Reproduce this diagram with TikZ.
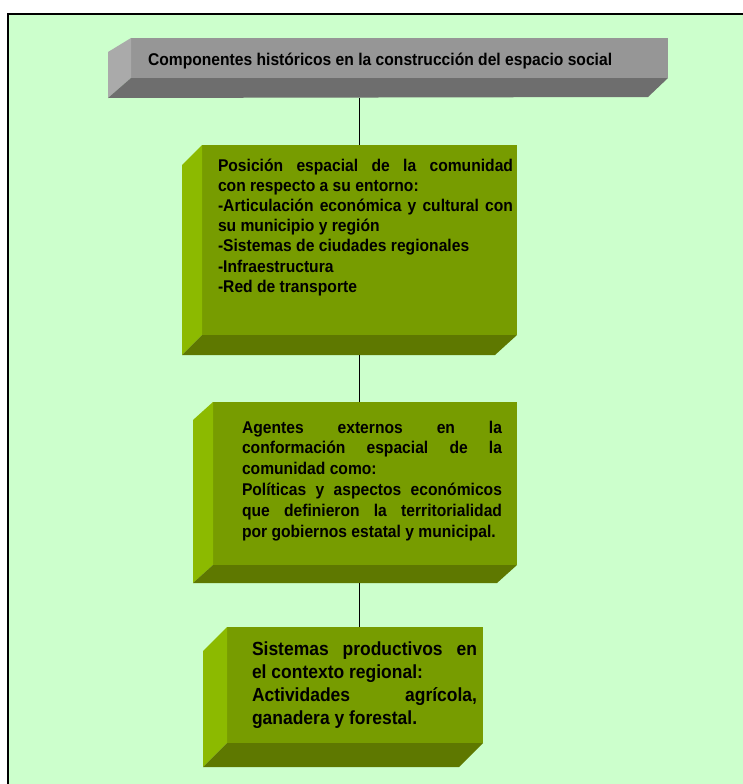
\documentclass[tikz,border=0pt]{standalone}
\usepackage{fontspec}
\setmainfont{Liberation Sans}
\newfontfamily\boxfontfamily[BoldFeatures={FakeStretch=0.92}]{Liberation Sans}
\newcommand{\boxfont}{\boxfontfamily\bfseries}
\usetikzlibrary{calc}

\definecolor{paper}{HTML}{CCFFCC}
\definecolor{slabfront}{HTML}{779C00}
\definecolor{slableft}{HTML}{8CBA00}
\definecolor{slabbottom}{HTML}{5E7800}
\definecolor{titlefront}{HTML}{969696}
\definecolor{titleleft}{HTML}{AAAAAA}
\definecolor{titlebottom}{HTML}{6E6E6E}

% text block: first baseline sits on the node's base anchor
\newcommand{\slabtext}[4]{%
  \parbox[t]{#1}{\boxfont\fontsize{#2}{#3}\selectfont
    \hyphenpenalty=10000 \exhyphenpenalty=10000 \tolerance=9999
    \emergencystretch=0pt #4}}

\tikzset{
  face/.style={inner sep=0pt, outer sep=0pt, anchor=north west},
  label/.style={inner sep=0pt, outer sep=0pt, anchor=base west, text=black},
  link/.style={draw=black, line width=1bp},
}

\begin{document}
\begin{tikzpicture}[x=1bp, y=-1bp]
  \useasboundingbox (0,0) rectangle (743,784);
  \fill[white] (0,0) rectangle (743,784);
  \fill[paper] (8,14) rectangle (745,786);
  \draw[line width=1.5bp] (8,786) -- (8,14) -- (745,14);

  % title slab (grey)
  \node[face, fill=titlefront, minimum width=537bp, minimum height=40bp] (tt) at (131,38) {};
  \fill[titleleft] (tt.north west) -- ++(-23,14) -- ($(tt.south west)+(-23,20)$) -- (tt.south west) -- cycle;
  \fill[titlebottom] (tt.south west) -- (tt.south east) -- ++(-20,19) -- ($(tt.south west)+(-23,20)$) -- cycle;
  \coordinate (tt-base) at ($(tt.south west)+(0,20)$);
  \node[label, font=\boxfont\fontsize{17bp}{20bp}\selectfont] (ttl) at (148,66)
    {Componentes históricos en la construcción del espacio social};

  % first green slab
  \node[face, fill=slabfront, minimum width=315bp, minimum height=190bp] (b1) at (202,145) {};
  \fill[slableft] (b1.north west) -- ++(-20,20) -- ($(b1.south west)+(-20,20)$) -- (b1.south west) -- cycle;
  \fill[slabbottom] (b1.south west) -- (b1.south east) -- ++(-22,20) -- ($(b1.south west)+(-20,20)$) -- cycle;
  \coordinate (b1-base) at ($(b1.south)+(0,20)$);
  \node[label] (t1) at (218,171) {\slabtext{295bp}{17bp}{20.2bp}{%
    Posición espacial de la comunidad\linebreak
    con respecto a su entorno:\\
    -Articulación económica y cultural con\linebreak
    su municipio y región\\
    -Sistemas de ciudades regionales\\
    -Infraestructura\\
    -Red de transporte}};

  % second green slab
  \node[face, fill=slabfront, minimum width=304bp, minimum height=163bp] (b2) at (213,402) {};
  \fill[slableft] (b2.north west) -- ++(-20,18) -- ($(b2.south west)+(-20,18)$) -- (b2.south west) -- cycle;
  \fill[slabbottom] (b2.south west) -- (b2.south east) -- ++(-20,18) -- ($(b2.south west)+(-20,18)$) -- cycle;
  \coordinate (b2-base) at ($(b2.south)+(0,18)$);
  \node[label] (t2) at (242,433) {\slabtext{260bp}{17bp}{20.8bp}{%
    Agentes externos en la\linebreak
    conformación espacial de la\linebreak
    comunidad como:\\
    Políticas y aspectos económicos\linebreak
    que definieron la territorialidad\linebreak
    por gobiernos estatal y municipal.}};

  % third green slab
  \node[face, fill=slabfront, minimum width=256bp, minimum height=116bp] (b3) at (227,627) {};
  \fill[slableft] (b3.north west) -- ++(-24,24) -- ($(b3.south west)+(-24,24)$) -- (b3.south west) -- cycle;
  \fill[slabbottom] (b3.south west) -- (b3.south east) -- ++(-24,24) -- ($(b3.south west)+(-24,24)$) -- cycle;
  \node[label] (t3) at (252,655) {\slabtext{225bp}{19bp}{23.3bp}{%
    Sistemas productivos en\linebreak
    el contexto regional:\\
    Actividades agrícola,\linebreak
    ganadera y forestal.}};

  % connectors between the slabs
  \draw[link] (b1.north |- tt-base) -- (b1.north);
  \draw[link] (b1-base) -- (b2.north -| b1-base);
  \draw[link] (b2-base -| b1-base) -- (b3.north -| b1-base);
\end{tikzpicture}
\end{document}
